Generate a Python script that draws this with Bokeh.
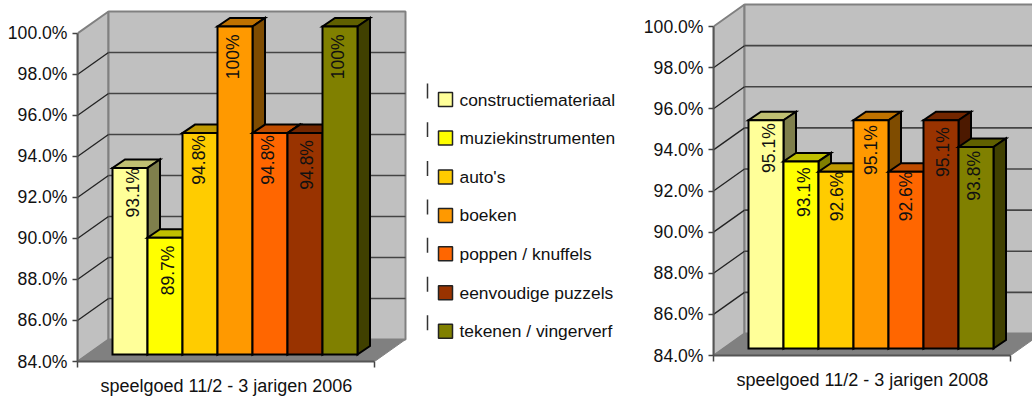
from bokeh.plotting import figure
from bokeh.layouts import row
from bokeh.models import Range1d, LinearAxis, FixedTicker, PrintfTickFormatter, Title
from bokeh.core.properties import value
from bokeh.embed import file_html
from bokeh.resources import INLINE
import math

categories = ["constructiemateriaal", "muziekinstrumenten", "auto's", "boeken",
              "poppen / knuffels", "eenvoudige puzzels", "tekenen / vingerverf"]
values_2006 = [93.1, 89.7, 94.8, 100.0, 94.8, 94.8, 100.0]
labels_2006 = ["93.1%", "89.7%", "94.8%", "100%", "94.8%", "94.8%", "100%"]
values_2008 = [95.1, 93.1, 92.6, 95.1, 92.6, 95.1, 93.8]
labels_2008 = ["95.1%", "93.1%", "92.6%", "95.1%", "92.6%", "95.1%", "93.8%"]
title_2006 = "speelgoed 11/2 - 3 jarigen 2006"
title_2008 = "speelgoed 11/2 - 3 jarigen 2008"
y_ticks = [84, 86, 88, 90, 92, 94, 96, 98, 100]

colors = ["#FFFF99", "#FFFF00", "#FFCC00", "#FF9900", "#FF6600", "#993300", "#808000"]

# layout constants
FONT = value("Liberation Sans")
PX_PER_PCT = 20.56
WALL_DX, WALL_DY = 31, 22
FLOOR_W = 297
BAR_DX, BAR_DY = 12.5, 8.5
BAR_IN_X, BAR_IN_Y = 35, 7
BAR_W = 35
PAGE_TOP, PAGE_BOTTOM = 0, 402


def shade(c, f):
    r, g, b = int(c[1:3], 16), int(c[3:5], 16), int(c[5:7], 16)
    return "#%02X%02X%02X" % (int(r * f), int(g * f), int(b * f))


def panel(vals, labels, title, x_left, x_axis, x_right, y_frame_bottom, label_nudge, title_offset, title_standoff):
    frame_h = y_frame_bottom - PAGE_TOP
    p = figure(width=x_right - x_left, height=PAGE_BOTTOM - PAGE_TOP,
               x_range=Range1d(x_axis, x_right),
               y_range=Range1d(84, 84 + frame_h / PX_PER_PCT),
               output_backend="svg", toolbar_location=None,
               x_axis_type=None, y_axis_type=None,
               min_border_left=x_axis - x_left, min_border_right=0,
               min_border_top=0, min_border_bottom=PAGE_BOTTOM - y_frame_bottom,
               background_fill_color=None, border_fill_color=None,
               outline_line_color=None, frame_align=False)
    p.grid.visible = False
    dv = WALL_DY / PX_PER_PCT
    # walls and floor
    xa, xb = x_axis, x_axis + WALL_DX
    xr = xb + FLOOR_W
    p.patches([[xa, xa, xb, xb], [xb, xb, xr, xr]],
              [[84, 100, 100 + dv, 84 + dv], [84 + dv, 100 + dv, 100 + dv, 84 + dv]],
              fill_color="#C0C0C0", line_color="#808080", line_width=2)
    inner = [t for t in y_ticks if 84 < t < 100]
    p.segment([xa] * len(inner), inner, [xb] * len(inner), [t + dv for t in inner],
              line_color="#222222", line_width=1.3)
    p.segment([xb] * len(inner), [t + dv for t in inner], [xr] * len(inner), [t + dv for t in inner],
              line_color="#444444", line_width=1.6)
    p.patch([xa, xa + FLOOR_W, xr, xb], [84, 84, 84 + dv, 84 + dv],
            fill_color="#808080", line_color="#808080", line_width=1)

    # 3D bars, painted left to right
    base = 84 + BAR_IN_Y / PX_PER_PCT
    dbar = BAR_DY / PX_PER_PCT
    for i, v in enumerate(vals):
        top = v + BAR_IN_Y / PX_PER_PCT
        x0 = x_axis + BAR_IN_X + i * BAR_W
        x1 = x0 + BAR_W
        c = colors[i]
        p.patch([x0, x1, x1 + BAR_DX, x0 + BAR_DX], [top, top, top + dbar, top + dbar],
                fill_color=shade(c, 0.75), line_color="black", line_width=2, line_join="miter")
        p.patch([x1, x1 + BAR_DX, x1 + BAR_DX, x1], [base, base + dbar, top + dbar, top],
                fill_color=shade(c, 0.5), line_color="black", line_width=2, line_join="miter")
        p.quad(left=x0, right=x1, bottom=base, top=top,
               fill_color=c, line_color="black", line_width=2, line_join="miter")
    for i, (v, t) in enumerate(zip(vals, labels)):
        dx, dy = label_nudge[i]
        top = v + BAR_IN_Y / PX_PER_PCT
        p.text([x_axis + BAR_IN_X + (i + 0.5) * BAR_W + dx], [top - dy / PX_PER_PCT], text=[t],
               angle=math.pi / 2, text_align="right", text_baseline="middle",
               text_font=FONT, text_font_size="17.5px", text_color="#111111")

    # real axes
    ya = LinearAxis(ticker=FixedTicker(ticks=y_ticks), bounds=(84, 100),
                    formatter=PrintfTickFormatter(format="%.1f%%"))
    ya.axis_line_color = "#555555"
    ya.axis_line_width = 2
    ya.major_tick_line_color = "#444444"
    ya.major_tick_line_width = 1.5
    ya.major_tick_out = 5
    ya.major_tick_in = 0
    ya.minor_tick_line_color = None
    ya.major_label_text_font = "Liberation Sans"
    ya.major_label_text_font_size = "17.6px"
    ya.major_label_text_color = "#111111"
    ya.major_label_standoff = 5
    p.add_layout(ya, "left")

    xaxis = LinearAxis(ticker=FixedTicker(ticks=[], minor_ticks=[x_axis, x_axis + FLOOR_W]),
                       bounds=(x_axis, x_axis + FLOOR_W))
    xaxis.axis_line_color = "#555555"
    xaxis.axis_line_width = 2
    xaxis.major_tick_line_color = None
    xaxis.minor_tick_line_color = "#444444"
    xaxis.minor_tick_line_width = 1.5
    xaxis.minor_tick_out = 6
    xaxis.minor_tick_in = 0
    p.add_layout(xaxis, "below")

    p.add_layout(Title(text=title, align="left", offset=title_offset, standoff=title_standoff,
                       text_line_height=0.8,
                       text_font="Liberation Sans", text_font_size="18px",
                       text_font_style="normal", text_color="#111111"), "below")
    to_val = lambda py: 84 + (y_frame_bottom - py) / PX_PER_PCT
    return p, to_val


nudge_2006 = [(3, 0), (3, 8), (-1, 2), (-2, 8), (-2, 2), (2, 7), (-2, 8)]
nudge_2008 = [(3, 3), (3, 6), (1, 0), (0, 5), (0, 0), (2, 7), (-2, 4)]

left, to_val = panel(values_2006, labels_2006, title_2006, 0, 77, 636, 362, nudge_2006, 23, 13)
right, _ = panel(values_2008, labels_2008, title_2008, 636, 713, 1032, 355, nudge_2008, 23, 13)

# legend, in the left panel's free area
row_px = [99.3, 138, 177, 215.5, 254, 293, 331.7]
left.segment([427] * 7, [to_val(y - 16) for y in row_px], [427] * 7, [to_val(y - 1) for y in row_px],
             line_color="#333333", line_width=1.5)
left.scatter([445] * 7, [to_val(y) for y in row_px], marker="square", size=14,
             fill_color=colors, line_color="#222222", line_width=1.5)
left.text([459] * 7, [to_val(y) for y in row_px], text=categories,
          text_align="left", text_baseline="middle",
          text_font=FONT, text_font_size="17.4px", text_color="#111111")

page = row(left, right, spacing=0)
open("out.html", "w").write(file_html(page, INLINE))
